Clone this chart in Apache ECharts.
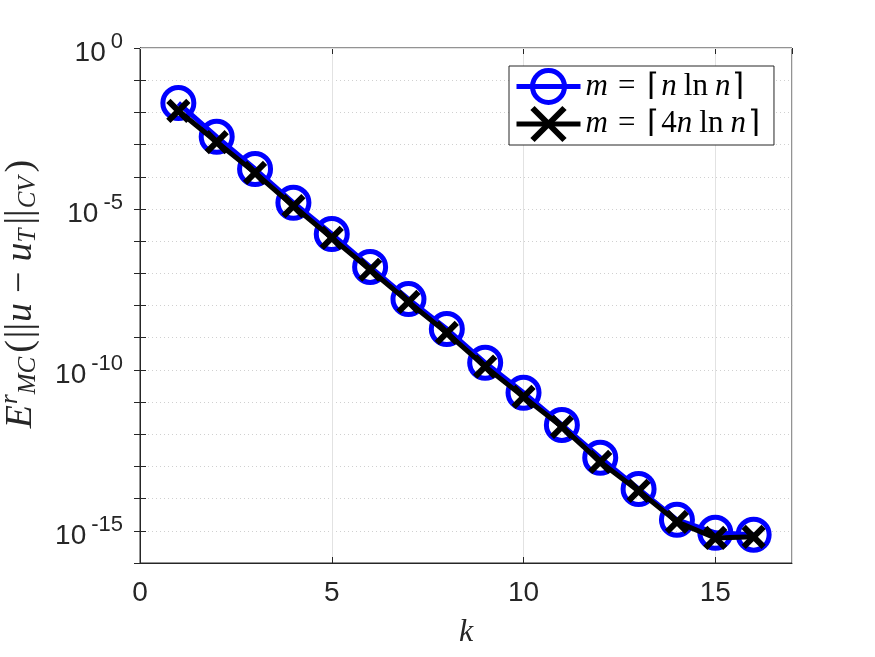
<!DOCTYPE html>
<html>
<head>
<meta charset="utf-8">
<script src="https://cdn.jsdelivr.net/npm/echarts@6/dist/echarts.min.js"></script>
<style>
  html, body { margin: 0; padding: 0; background: #fff; }
  #chart { width: 875px; height: 657px; }
</style>
</head>
<body>
<div id="chart"></div>
<script>
// k values and errors
const kValues = [1, 2, 3, 4, 5, 6, 7, 8, 9, 10, 11, 12, 13, 14, 15, 16]
const errNlnN = [1.95e-2, 1.74e-3, 1.74e-4, 1.55e-5, 1.66e-6, 1.58e-7, 1.58e-8, 1.86e-9,
  1.66e-10, 1.95e-11, 1.95e-12, 1.86e-13, 2.0e-14, 2.19e-15, 8.7e-16, 7.6e-16]
const err4NlnN = [1.12e-2, 1.2e-3, 1.32e-4, 1.23e-5, 1.26e-6, 1.29e-7, 1.29e-8, 1.41e-9,
  1.26e-10, 1.45e-11, 1.7e-12, 1.38e-13, 1.74e-14, 1.9e-15, 6.0e-16, 6.5e-16]
const majorDecades = [1e-15, 1e-10, 1e-5, 1]
const xTicks = [0, 5, 10, 15]

const seriesNames = ['nlnn', '4nlnn']
const legendText = {
  nlnn: '{i|m}{op|=}{br|⌈}{i|n}{ln|ln}{i|n}{br|⌉}',
  '4nlnn': '{i|m}{op|=}{br|⌈}4{i|n}{ln|ln}{i|n}{br|⌉}'
}

const pair = (ys) => kValues.map((k, i) => [k, ys[i]])
const expOf = (v) => Math.round(Math.log10(v))

const chart = echarts.init(document.getElementById('chart'))

const axisText = '#262626'
const labelFont = 'Liberation Sans'
const mathFont = 'Liberation Serif'
const blue = '#0000ff'

const yAxisBase = {
  type: 'log',
  logBase: 10,
  min: 1e-16,
  max: 1,
  interval: 1,
  axisLine: { lineStyle: { color: axisText, width: 1 } },
  axisTick: { inside: true, length: 6, lineStyle: { color: axisText } }
}

const legendFont = { fontFamily: mathFont, fontSize: 31, lineHeight: 36, color: '#000' }
const nameFont = { fontFamily: mathFont, fontSize: 38, color: axisText }

const option = {
  animation: false,
  grid: {
    left: 140, right: 83, top: 48, bottom: 94,
    outerBoundsMode: 'none',
    show: true, borderColor: axisText, borderWidth: 1
  },
  legend: {
    data: [
      {
        name: seriesNames[0],
        lineStyle: { color: blue, width: 5 },
        itemStyle: { color: 'rgba(0,0,0,0)', borderColor: blue, borderWidth: 5 }
      },
      {
        name: seriesNames[1],
        lineStyle: { color: '#000', width: 5 },
        itemStyle: { color: '#000', borderColor: '#000', borderWidth: 6 }
      }
    ],
    orient: 'vertical',
    left: 509,
    top: 66,
    padding: [2, 12, 2, 5],
    itemWidth: 64,
    itemHeight: 40,
    itemGap: 0,
    backgroundColor: '#fff',
    borderColor: axisText,
    borderWidth: 1,
    borderRadius: 0,
    formatter: (name) => legendText[name],
    textStyle: {
      ...legendFont,
      rich: {
        i: { ...legendFont, fontStyle: 'italic' },
        op: { ...legendFont, padding: [0, 10, 0, 10] },
        ln: { ...legendFont, padding: [0, 7, 0, 7] },
        br: { ...legendFont, padding: [0, 2, 0, 2] }
      }
    }
  },
  xAxis: [
    {
      type: 'value',
      min: 0,
      max: 17,
      interval: 5,
      name: 'k',
      nameLocation: 'middle',
      nameGap: 54,
      nameTextStyle: { fontFamily: mathFont, fontStyle: 'italic', fontSize: 32, color: axisText },
      axisLine: { lineStyle: { color: axisText } },
      axisTick: { inside: true, length: 6, lineStyle: { color: axisText } },
      axisLabel: {
        margin: 16,
        color: axisText,
        fontFamily: labelFont,
        fontSize: 28,
        showMaxLabel: false,
        formatter: (v) => (xTicks.includes(v) ? String(v) : '')
      },
      splitLine: { show: true, lineStyle: { color: '#e2e2e2', width: 1 } }
    },
    {
      type: 'value',
      position: 'top',
      min: 0,
      max: 17,
      interval: 5,
      axisLine: { show: false },
      axisTick: { inside: true, length: 6, lineStyle: { color: axisText } },
      axisLabel: { show: false },
      splitLine: { show: false }
    }
  ],
  yAxis: [
    {
      ...yAxisBase,
      name: '{i|E}{sup|r}{sub|MC}{n|(}{n|||}{i|u}{op|−}{i|u}{sub|T}{n|||}{sub|CV}{n|)}',
      nameLocation: 'middle',
      nameRotate: 90,
      nameGap: 96,
      nameTextStyle: {
        ...nameFont,
        padding: [0, 0, 0, 24],
        rich: {
          i: { ...nameFont, fontStyle: 'italic' },
          n: { ...nameFont, padding: [0, 1, 0, 1] },
          op: { ...nameFont, padding: [0, 10, 0, 10] },
          sup: { ...nameFont, fontStyle: 'italic', fontSize: 25, padding: [0, 0, 21, 1] },
          sub: { ...nameFont, fontStyle: 'italic', fontSize: 25, padding: [15, 3, 0, 0] }
        }
      },
      axisLabel: {
        margin: 17,
        color: axisText,
        fontFamily: labelFont,
        fontSize: 28,
        formatter: (v) => {
          const e = expOf(v)
          return e % 5 === 0 ? '{b|10}{s|' + e + '}' : ''
        },
        rich: {
          b: { fontFamily: labelFont, fontSize: 28, color: axisText, padding: [10, 0, 0, 0] },
          s: { fontFamily: labelFont, fontSize: 22, color: axisText, padding: [0, 0, 12, 5] }
        }
      },
      splitLine: { show: true, lineStyle: { color: '#d0d0d0', width: 1, type: [1, 3] } }
    },
    {
      ...yAxisBase,
      position: 'right',
      axisLabel: { show: false },
      splitLine: { show: false }
    }
  ],
  series: [
    {
      // solid major grid lines at 10^0, 10^-5, 10^-10, 10^-15
      name: 'grid',
      type: 'line',
      z: 1,
      data: [],
      silent: true,
      markLine: {
        silent: true,
        symbol: 'none',
        label: { show: false },
        lineStyle: { color: '#e2e2e2', width: 1, type: 'solid' },
        data: majorDecades.map((v) => ({ yAxis: v }))
      }
    },
    {
      name: seriesNames[0],
      type: 'line',
      z: 3,
      data: pair(errNlnN),
      symbol: 'circle',
      symbolSize: 31,
      lineStyle: { color: blue, width: 5 },
      itemStyle: { color: 'rgba(0,0,0,0)', borderColor: blue, borderWidth: 5 }
    },
    {
      name: seriesNames[1],
      type: 'line',
      z: 4,
      data: pair(err4NlnN),
      symbol: 'path://M0,0 L10,10 M10,0 L0,10',
      symbolSize: 20,
      lineStyle: { color: '#000', width: 5 },
      itemStyle: { color: '#000', borderColor: '#000', borderWidth: 6 }
    }
  ]
}

chart.setOption(option)
</script>
</body>
</html>
